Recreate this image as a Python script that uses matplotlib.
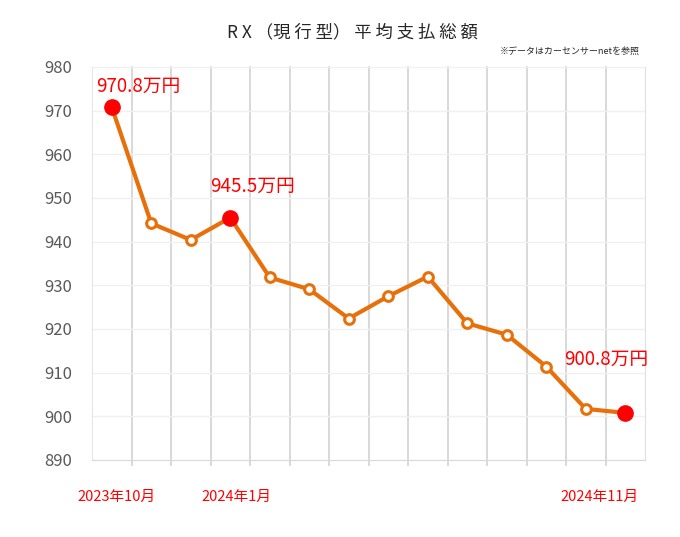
import matplotlib.pyplot as plt
import numpy as np

plt.rcParams['font.family'] = ['Noto Sans CJK JP', 'DejaVu Sans']

# Monthly average total payment (万円), Oct 2023 - Nov 2024
months = ['2023年10月', '2023年11月', '2023年12月', '2024年1月', '2024年2月', '2024年3月',
          '2024年4月', '2024年5月', '2024年6月', '2024年7月', '2024年8月', '2024年9月',
          '2024年10月', '2024年11月']
values = [970.8, 944.2, 940.4, 945.5, 931.8, 929.1, 922.4, 927.5, 932.0, 921.3,
          918.7, 911.4, 901.7, 900.8]
highlight = [0, 3, 13]
yticks = [890, 900, 910, 920, 930, 940, 950, 960, 970, 980]

orange = '#E8700A'
red = '#FF0000'

fig = plt.figure(figsize=(6.8, 5.37), dpi=100)
ax = fig.add_axes([92/680, 1-460/537, 553/680, 393/537])

x = np.arange(len(values))
ax.plot(x, values, color=orange, lw=3, zorder=3)
ax.plot(x, values, 'o', ms=7, mfc='white', mec=orange, mew=2.2, zorder=4)
for i in highlight:
    ax.plot(x[i], values[i], 'o', ms=11, color=red, zorder=5)

# value labels
ax.text(x[0] - 0.4, values[0] + 3.5, f'{values[0]}万円', color=red, fontsize=13.5)
ax.text(x[3] - 0.5, values[3] + 6, f'{values[3]}万円', color=red, fontsize=13.5)
ax.text(x[13] - 1.55, values[13] + 11, f'{values[13]}万円', color=red, fontsize=13.5)

# x labels for highlighted months
label_x = [x[0] + 0.13, x[3] + 0.15, x[13] - 0.65]
for i, lx in zip(highlight, label_x):
    ax.text(lx, 881.5, months[i], color=red, fontsize=10.5, ha='center', va='center')

ax.set_xlim(-0.5, len(values) - 0.5)
ax.set_ylim(890, 980)
ax.set_yticks(yticks)
ax.tick_params(axis='y', length=0, labelsize=12, labelcolor='#595959', pad=14)
ax.set_xticks([])

ax.grid(axis='y', color='#f0f0f0', lw=1)
for b in np.arange(0.5, len(values) - 0.5, 1):
    ax.plot([b, b], [888.8, 980], color='#d6d6d6', lw=1.3, zorder=1, clip_on=False)

ax.spines['top'].set_visible(False)
ax.spines['left'].set_color('#e6e6e6')
ax.spines['bottom'].set_color('#d9d9d9')
ax.spines['right'].set_color('#e0e0e0')

fig.text(352/680, 1-32/537, 'R X （現 行 型） 平 均 支 払 総 額', fontsize=12.5,
         ha='center', va='center', color='#262626')
fig.text(640/680, 1-52/537, '※データはカーセンサーnetを参照', fontsize=6.5,
         ha='right', va='center', color='#262626')

fig.savefig('out.png', dpi=100)
